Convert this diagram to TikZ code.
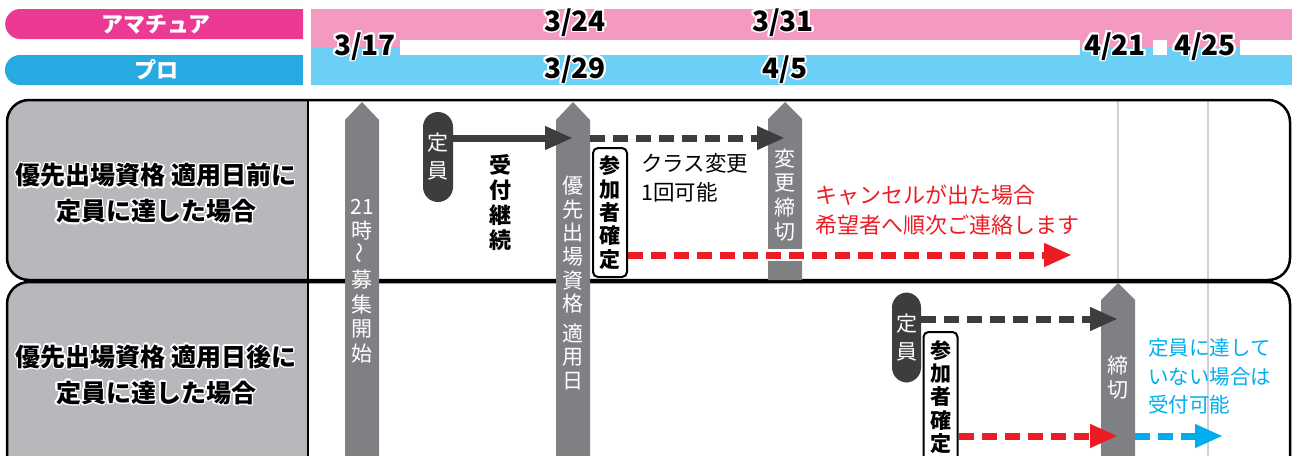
\documentclass[tikz,border=0pt]{standalone}
\usepackage{fontspec}
\setmainfont{Noto Sans CJK JP}
\usepackage{graphicx}
\usepackage[copies]{contour}
\contourlength{1.6pt}
\usetikzlibrary{arrows.meta,calc,positioning,shapes.misc}

\definecolor{amadark}{HTML}{EC3A93}
\definecolor{amalight}{HTML}{F49AC2}
\definecolor{prodark}{HTML}{27A9E1}
\definecolor{prolight}{HTML}{6CCFF6}
\definecolor{panelgray}{HTML}{B7B8BC}
\definecolor{pillargray}{HTML}{7F8084}
\definecolor{inkdark}{HTML}{3D3D3F}
\definecolor{linegray}{HTML}{D0D0D0}
\definecolor{alertred}{HTML}{ED1C24}
\definecolor{okblue}{HTML}{00AEEF}

\tikzset{
  datelbl/.style={font=\fontsize{28}{28}\selectfont\bfseries, inner sep=0pt},
  headlbl/.style={rounded rectangle, rounded rectangle right arc=none, minimum width=298pt, minimum height=30pt, text=white, font=\fontsize{22}{22}\selectfont\bfseries, inner sep=0pt},
  rowlbl/.style={align=center, font=\fontsize{25}{36}\selectfont\bfseries, inner sep=0pt},
  pillartxt/.style={align=center, text=white, font=\fontsize{21}{24.5}\selectfont, inner sep=0pt},
  teiinpill/.style={fill=inkdark, rounded corners=15pt, minimum width=30pt, minimum height=90pt, text=white, align=center, font=\fontsize{21}{28}\selectfont, inner sep=0pt},
  kakuteibox/.style={draw=black, line width=2pt, fill=white, rounded corners=5pt, minimum width=34pt, align=center, font=\fontsize{21}{23.3}\selectfont\bfseries, inner sep=0pt},
  keyarrow/.style={line width=7pt, draw=inkdark, -{Triangle[length=28pt,width=22pt]}},
  dasharrow/.style={line width=7pt, dash pattern=on 15pt off 8pt, -{Triangle[length=28pt,width=22pt]}},
  note/.style={align=left, anchor=west, inner sep=0pt},
}

\begin{document}
\begin{tikzpicture}[x=1pt,y=-1pt]
\clip (0,0) rectangle (1292,455);

% header bars
\fill[amalight] (311,9) rectangle (1292,40);
\fill[prolight] (311,55) rectangle (1292,85);
\foreach \a/\b in {311/400,1080/1153,1167/1240}{
  \fill[amalight] (\a,39) rectangle (\b,47.5);
  \fill[prolight] (\a,47) rectangle (\b,56);
}
\node[headlbl, fill=amadark] (amaLbl) at (156,24) {アマチュア};
\node[headlbl, fill=prodark] (proLbl) at (156,70) {プロ};

\node[datelbl] (d317) at (365,47) {\contour{white}{3/17}};
\node[datelbl] (d324) at (575,23) {\contour{white}{3/24}};
\node[datelbl] (d331) at (783,23) {\contour{white}{3/31}};
\node[datelbl] (d329) at (575,70) {\contour{white}{3/29}};
\node[datelbl] (d45) at (785,70) {\contour{white}{4/5}};
\node[datelbl] (d421) at (1115,47) {\contour{white}{4/21}};
\node[datelbl] (d425) at (1205,47) {\contour{white}{4/25}};

% row panels
\begin{scope}
  \clip[rounded corners=22pt] (7,100) rectangle (1290,280);
  \fill[panelgray] (7,100) rectangle (308,280);
\end{scope}
\begin{scope}
  \clip[rounded corners=22pt] (7,282) rectangle (1290,520);
  \fill[panelgray] (7,282) rectangle (308,520);
\end{scope}
\draw[linegray, line width=2.5pt] (1118,100) -- (1118,280);
\draw[linegray, line width=2.5pt] (1208,100) -- (1208,460);
\draw[line width=2.5pt, rounded corners=22pt] (7,100) rectangle (1290,280);
\draw[line width=2.5pt, rounded corners=22pt] (7,282) rectangle (1290,520);
\draw[line width=2pt] (308,100) -- (308,280);
\draw[line width=2pt] (308,282) -- (308,460);

\node[rowlbl] (rowOne) at (156,194) {\contour{white}{優先出場資格 適用日前に}\\\contour{white}{定員に達した場合}};
\node[rowlbl] (rowTwo) at (156,375.5) {\contour{white}{優先出場資格 適用日後に}\\\contour{white}{定員に達した場合}};

% pillars
\coordinate (pA) at (362,102);
\coordinate (pB) at (573,102);
\coordinate (pC) at (785,102);
\coordinate (pD) at (1118,283);
\fill[pillargray] (345,470) -- (345,120) -- (362,102) -- (379,120) -- (379,470) -- cycle;
\fill[pillargray] (556,470) -- (556,120) -- (573,102) -- (590,120) -- (590,470) -- cycle;
\fill[pillargray] (768,280) -- (768,119) -- (785,102) -- (802,119) -- (802,280) -- cycle;
\fill[pillargray] (1101,470) -- (1101,300) -- (1118,283) -- (1135,300) -- (1135,470) -- cycle;

\node[pillartxt] (pAtxt) at (362,281) {21\\時\\\rotatebox{90}{～}\\募\\集\\開\\始};
\node[pillartxt, font=\fontsize{21}{23.6}\selectfont] (pBtxt) at (573,283) {優\\先\\出\\場\\資\\格\\[6pt]適\\用\\日};
\node[pillartxt] (pCtxt) at (785,195) {変\\更\\締\\切};
\node[pillartxt] (pDtxt) at (1118,377.5) {締\\切};

% row 1
\coordinate (rowA) at (0,138);
\coordinate (rowB) at (0,255);
\coordinate (redEnd) at (1072,255);
\node[teiinpill] (teiinA) at (438,157) {定\\員};
\node[kakuteibox, minimum height=129pt] (kakuteiA) at (610,212.5) {参\\加\\者\\確\\定};
\node[align=center, inner sep=0pt, font=\fontsize{22}{25}\selectfont\bfseries] (uketsuke) at (500,203) {受\\付\\継\\続};
\node[note, font=\fontsize{21.5}{29}\selectfont] (classNote) at (641,177.5) {クラス変更\\1回可能};
\node[note, text=alertred, font=\fontsize{22}{30}\selectfont] (cancelNote) at (815,210) {キャンセルが出た場合\\希望者へ順次ご連絡します};

\draw[keyarrow] (teiinA.east |- rowA) -- (pB |- rowA);
\draw[dasharrow, draw=inkdark] ($(pB |- rowA)+(17,0)$) -- (pC |- rowA);
\fill[white] ($(pC |- rowB)+(-18,-6)$) rectangle ($(pC |- rowB)+(18,6)$);
\draw[dasharrow, draw=alertred] (kakuteiA.east |- rowB) -- (redEnd);

% row 2
\coordinate (rowC) at (0,319);
\coordinate (rowD) at (0,436);
\coordinate (blueEnd) at (1223,436);
\node[teiinpill, minimum width=29pt] (teiinB) at (906.5,337.5) {定\\員};
\node[kakuteibox, minimum height=130pt] (kakuteiB) at (940.5,397) {参\\加\\者\\確\\定};
\node[note, text=okblue, font=\fontsize{20.5}{28.5}\selectfont] (openNote) at (1148,376.5) {定員に達して\\いない場合は\\受付可能};

\draw[dasharrow, draw=inkdark] (teiinB.east |- rowC) -- (pD |- rowC);
\draw[dasharrow, draw=alertred] (kakuteiB.east |- rowD) -- (pD |- rowD);
\draw[dasharrow, draw=okblue] ($(pD |- rowD)+(17,0)$) -- (blueEnd);
\end{tikzpicture}
\end{document}
